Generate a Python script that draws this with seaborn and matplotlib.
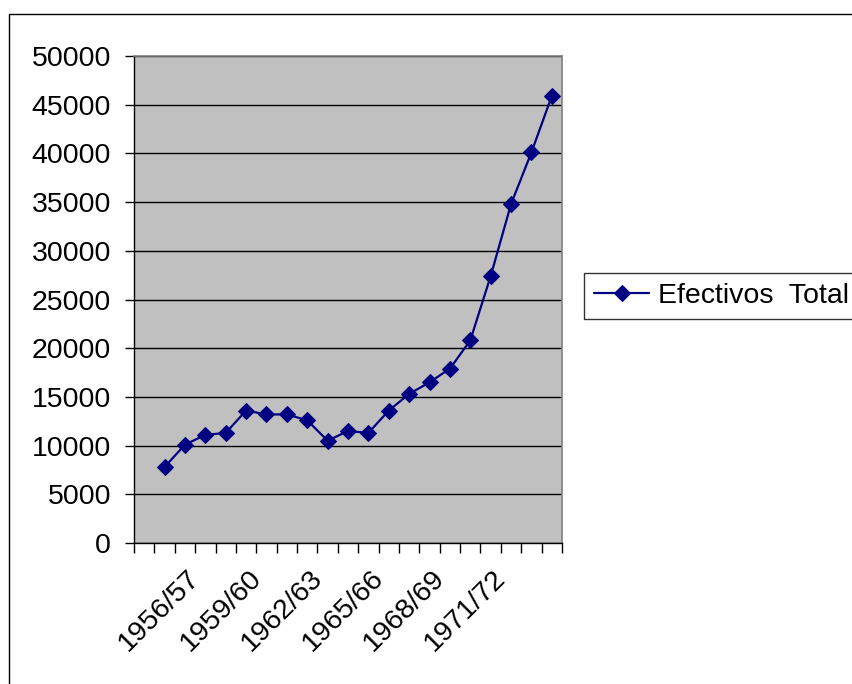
import matplotlib
matplotlib.use("Agg")
import matplotlib.pyplot as plt
from matplotlib.patches import Rectangle
import seaborn as sns
import pandas as pd
import numpy as np

# Academic years (first category slot is left empty on the axis)
periods = [
    "1954/55", "1955/56", "1956/57", "1957/58", "1958/59", "1959/60",
    "1960/61", "1961/62", "1962/63", "1963/64", "1964/65", "1965/66",
    "1966/67", "1967/68", "1968/69", "1969/70", "1970/71", "1971/72",
    "1972/73", "1973/74",
]
categories = [""] + periods

# Total enrolment per year
efectivos_total = [
    7800, 10100, 11100, 11300, 13600, 13200, 13200, 12600, 10500, 11500,
    11300, 13600, 15300, 16500, 17900, 20800, 27400, 34800, 40100, 45900,
]

series_name = "Efectivos  Total"
y_ticks = list(range(0, 50001, 5000))

df = pd.DataFrame({
    "pos": [categories.index(p) for p in periods],
    "valor": efectivos_total,
})

sns.set_theme(style="white", rc={"text.color": "black",
                                 "xtick.color": "black",
                                 "ytick.color": "black",
                                 "axes.labelcolor": "black"})
plt.rcParams["font.family"] = ["Liberation Sans", "DejaVu Sans"]

FS = 20.5
W, H = 853, 684
fig = plt.figure(figsize=(W / 100, H / 100), dpi=100)
fig.patch.set_facecolor("white")

# outer chart-area frame
fig.patches.append(Rectangle((8.5 / W, -0.1), 1.2, 1 - 14 / H + 0.1,
                             transform=fig.transFigure, fill=False,
                             edgecolor="black", linewidth=1.0, zorder=0))

ax = fig.add_axes([134 / W, 1 - 543 / H, (562 - 134) / W, (543 - 56) / H])
ax.set_facecolor("#C0C0C0")

sns.lineplot(data=df, x="pos", y="valor", ax=ax, color="#000080",
             linewidth=1.6, marker="D", markersize=8,
             markeredgecolor="#000080", label=series_name, legend=False,
             zorder=3)

ax.set_xlim(-0.5, len(categories) - 0.5)
ax.set_ylim(0, 50000)

# horizontal gridlines
ax.set_yticks(y_ticks)
ax.set_yticklabels([str(v) for v in y_ticks], fontsize=FS)
ax.yaxis.grid(True, color="black", linewidth=1.0)
ax.set_axisbelow(True)

# category boundaries as tick marks, labels every third category
ax.set_xticks(np.arange(-0.5, len(categories), 1.0))
ax.set_xticklabels([])
label_pos = list(range(0, len(categories), 3))
ax.set_xticks(label_pos, minor=True)
ax.set_xticklabels([categories[i] for i in label_pos], minor=True,
                   rotation=45, ha="right", va="top", fontsize=FS)
ax.tick_params(axis="x", which="minor", length=0, pad=16)
ax.tick_params(axis="x", which="major", length=7, width=1.0,
               direction="out", color="black", bottom=True)
ax.tick_params(axis="y", length=6.5, width=1.0, direction="out",
               color="black", pad=10, left=True)

ax.set_xlabel("")
ax.set_ylabel("")

for side in ("top", "right"):
    ax.spines[side].set_color("#808080")
    ax.spines[side].set_linewidth(1.2)
for side in ("left", "bottom"):
    ax.spines[side].set_color("black")
    ax.spines[side].set_linewidth(1.0)

handles, labels = ax.get_legend_handles_labels()
leg = fig.legend(handles, labels, loc="upper left",
                 bbox_to_anchor=(584 / W, 1 - 273 / H),
                 frameon=True, fancybox=False, shadow=False,
                 fontsize=FS, handlelength=1.95, handletextpad=0.3,
                 borderpad=0.35, borderaxespad=0)
leg.get_frame().set_edgecolor("black")
leg.get_frame().set_linewidth(1.0)

fig.savefig("out.png", dpi=100)
